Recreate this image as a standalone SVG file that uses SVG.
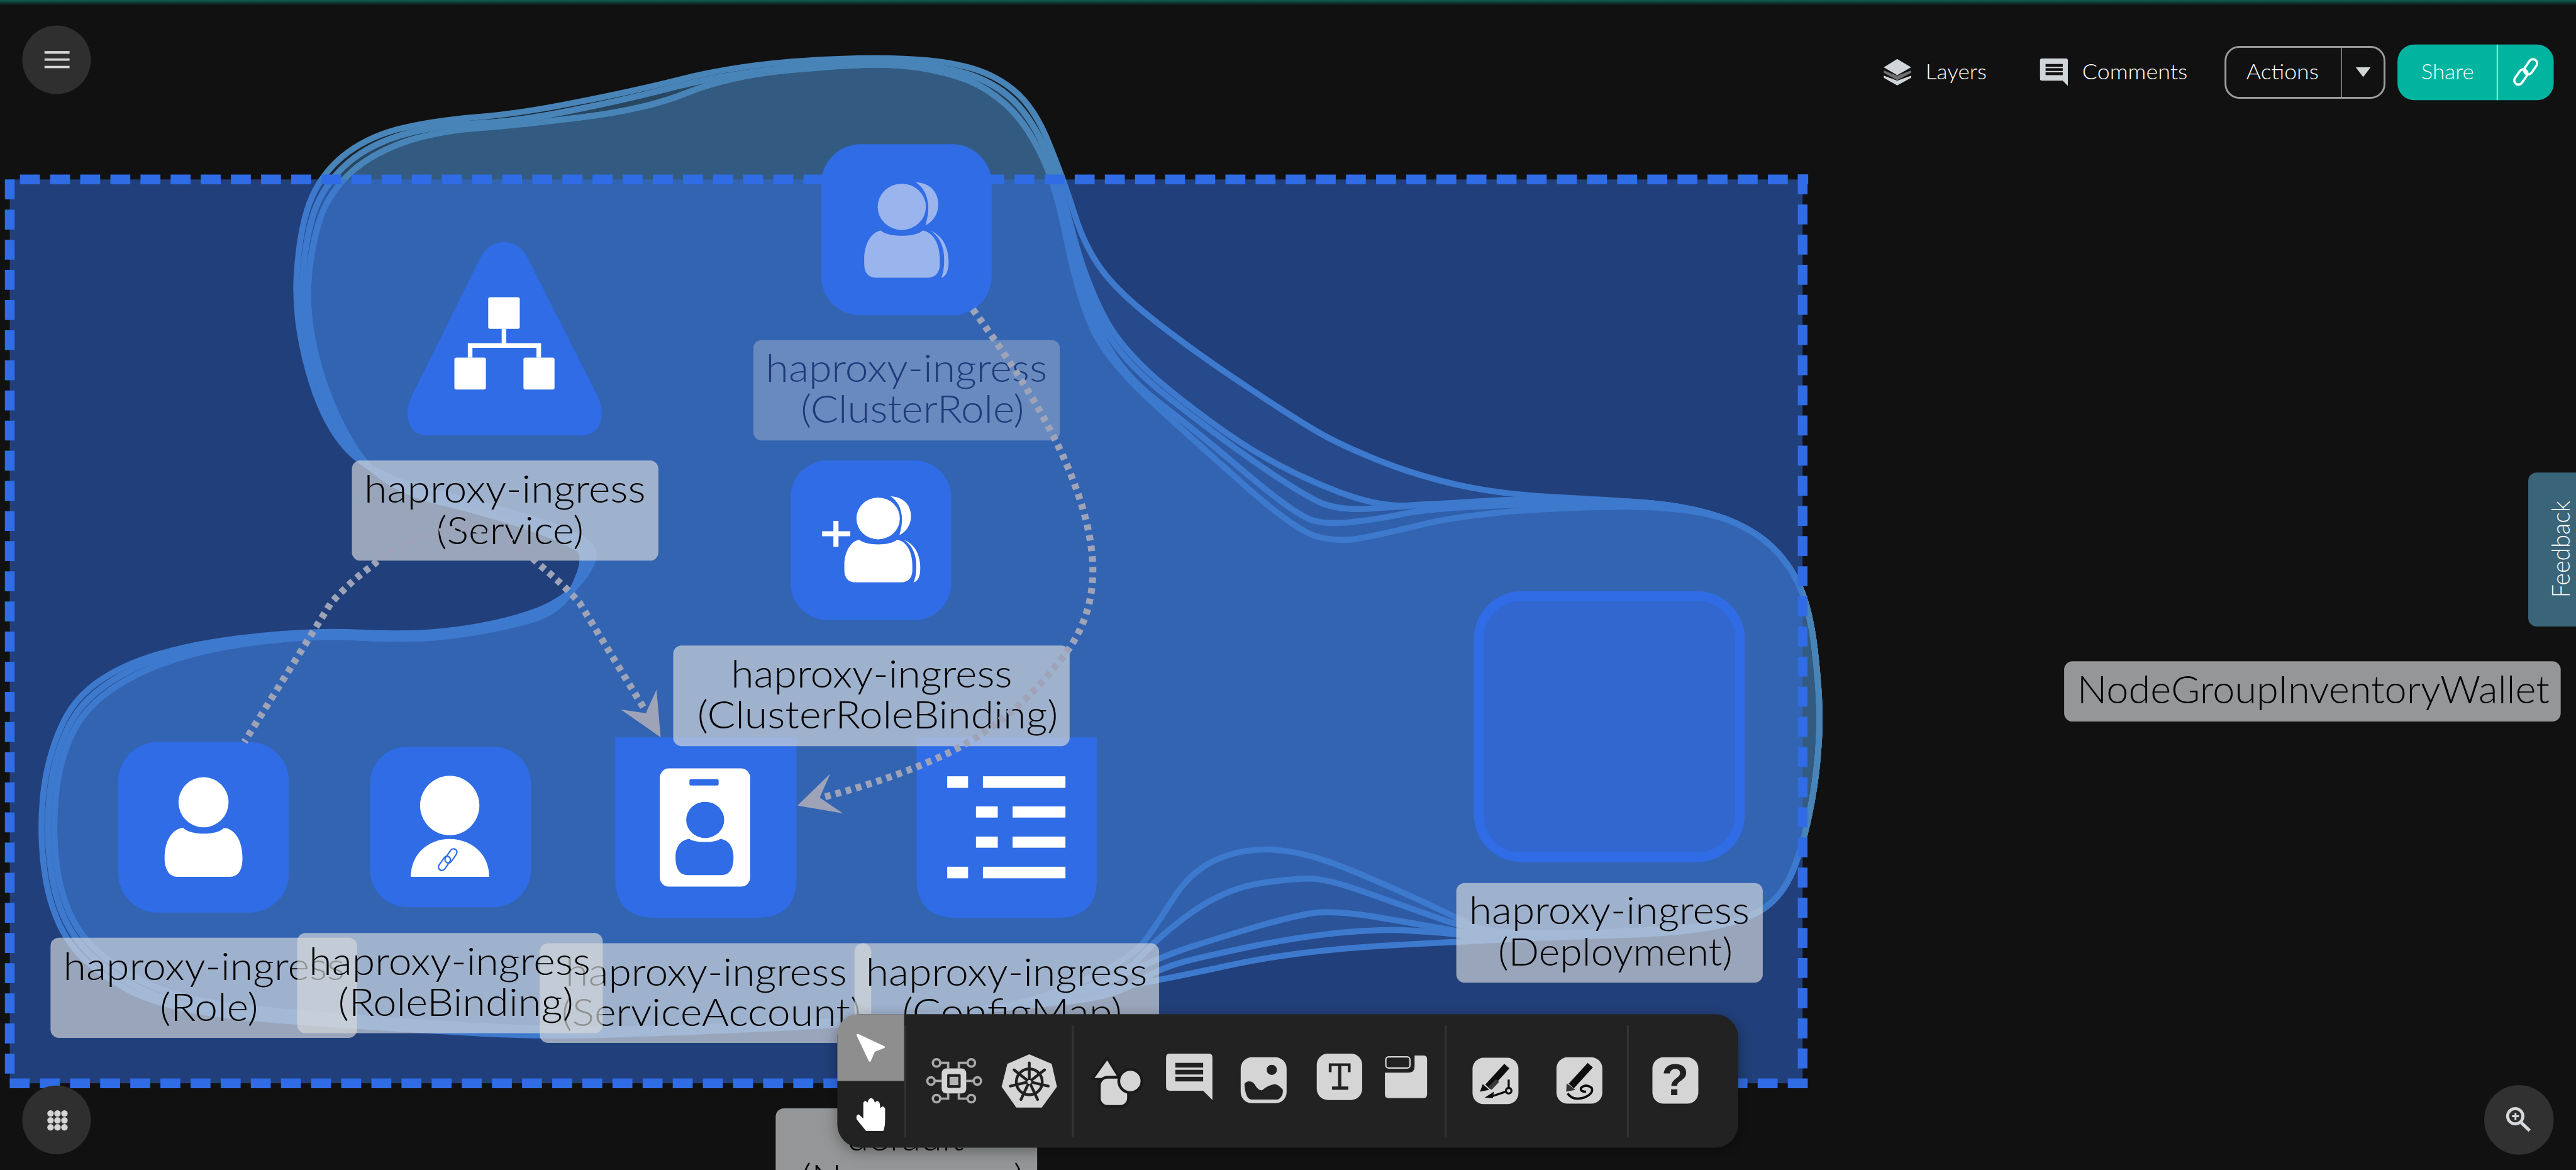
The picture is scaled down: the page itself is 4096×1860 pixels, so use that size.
<svg xmlns="http://www.w3.org/2000/svg" xmlns:xlink="http://www.w3.org/1999/xlink" width="4096" height="1860" viewBox="0 0 4096 1860">
<style>
text{font-family:"Lato","Liberation Sans",sans-serif}
.lbl{font-size:83px;font-weight:300;fill:#000;text-anchor:middle}
.box{fill:#d5d8d9;fill-opacity:.67}
.node{fill:#2f6ce5}
.hull{fill:#4884b7;fill-opacity:.2;stroke:#4884b7;stroke-width:13;stroke-linejoin:round}
.dash{fill:none;stroke:#2f6ce5;stroke-width:21;stroke-dasharray:43 22}
.conn{fill:none;stroke:#9ea3b8;stroke-width:15;stroke-dasharray:12 11}
.arrow{fill:#9ea3b8}
.ui{font-size:46px;font-weight:300;fill:#fff}
.tool{fill:#d5d5d5}
.dark{fill:#212121}
.sep{stroke:#343434;stroke-width:4}
</style>
<defs>
<linearGradient id="topline" x1="0" y1="0" x2="0" y2="1"><stop offset="0" stop-color="#0c6152"/><stop offset="1" stop-color="#111111"/></linearGradient>
<filter id="tbshadow" x="-5%" y="-20%" width="110%" height="140%"><feDropShadow dx="0" dy="8" stdDeviation="16" flood-color="#000" flood-opacity=".35"/></filter>
<g id="persons">
<ellipse cx="1945" cy="446" rx="52" ry="50"/>
<path d="M1975 393C2015 395 2027 425 2023 450C2020 465 2012 478 1996 486C2000 472 2003 458 2002 443C2000 420 1992 405 1975 393Z"/>
<path d="M1864 558C1864 525 1880 500 1900 497C1915 512 1975 512 1990 497C2012 500 2027 525 2027 558L2027 570C2027 590 2015 599 2000 599L1890 599C1875 599 1864 590 1864 570Z"/>
<path d="M2005 497C2030 505 2046 530 2046 565C2046 585 2040 597 2030 599C2036 585 2037 570 2036 550C2034 525 2022 505 2005 497Z"/>
</g>
</defs>
<g transform="scale(0.73722)">
<rect width="5556" height="2523" fill="#111111"/>
<rect width="5556" height="12" fill="url(#topline)"/>

<g id="hulls">
<path class="hull" d="M1286 2232Q1143 2236 955 2224Q768 2213 562 2197Q357 2181 268 2130Q179 2080 143 2021Q107 1963 95 1873Q84 1784 95 1698Q107 1612 143 1545Q179 1479 268 1438Q357 1397 509 1377Q661 1358 777 1364Q893 1370 982 1358Q1071 1347 1142 1323Q1214 1300 1254 1250Q1295 1200 1272 1176Q1250 1152 1160 1123Q1071 1094 937 1061Q804 1028 750 970Q696 912 665 800Q634 688 640 592Q646 497 667 439Q688 381 737 339Q786 298 857 279Q929 261 1022 253Q1116 246 1236 222Q1357 199 1464 172Q1571 145 1696 134Q1821 124 1919 126Q2018 128 2080 143Q2143 158 2187 195Q2232 232 2263 311Q2295 390 2317 460Q2339 531 2375 580Q2411 630 2491 692Q2571 755 2685 831Q2800 908 2852 937Q2905 966 2984 997Q3064 1028 3151 1047Q3239 1066 3353 1072Q3468 1078 3547 1084Q3626 1090 3692 1109Q3758 1128 3804 1164Q3850 1200 3877 1255Q3905 1310 3916 1418Q3928 1527 3923 1598Q3919 1670 3906 1737Q3894 1804 3873 1862Q3853 1920 3815 1951Q3778 1982 3703 1997Q3629 2012 3504 2016Q3380 2020 3297 2023Q3215 2027 3007 2038Q2800 2049 2650 2082Q2500 2115 2350 2140Q2200 2165 2037 2187Q1875 2209 1652 2218Q1429 2228 1286 2232Z"/>
<path class="hull" d="M1286 2226Q1143 2228 955 2216Q768 2205 569 2188Q370 2172 281 2121Q192 2070 156 2012Q120 1955 109 1869Q98 1784 109 1699Q120 1615 156 1552Q192 1490 281 1446Q370 1402 515 1383Q661 1364 777 1370Q893 1376 982 1364Q1071 1352 1142 1331Q1214 1310 1247 1255Q1280 1200 1260 1180Q1240 1160 1155 1131Q1071 1102 943 1071Q815 1040 761 972Q708 905 677 796Q646 688 653 594Q660 500 682 445Q705 390 752 350Q800 310 870 290Q940 270 1028 266Q1116 262 1233 238Q1350 215 1457 187Q1565 160 1693 147Q1821 135 1915 137Q2010 140 2070 155Q2130 170 2175 207Q2220 245 2252 317Q2285 390 2312 495Q2339 600 2380 680Q2420 760 2531 848Q2643 937 2721 982Q2800 1028 2888 1061Q2976 1094 3038 1090Q3100 1085 3284 1081Q3468 1078 3547 1084Q3626 1090 3692 1109Q3758 1128 3804 1164Q3850 1200 3877 1255Q3905 1310 3916 1418Q3928 1527 3923 1598Q3919 1670 3906 1737Q3894 1804 3873 1862Q3853 1920 3815 1951Q3778 1982 3703 1995Q3629 2009 3422 2016Q3215 2024 3152 2016Q3090 2009 3028 2006Q2966 2004 2883 2012Q2800 2021 2703 2040Q2607 2060 2553 2074Q2500 2088 2450 2119Q2400 2150 2300 2160Q2200 2170 2037 2187Q1875 2205 1652 2214Q1429 2224 1286 2226Z"/>
<path class="hull" d="M1286 2226Q1143 2228 955 2216Q768 2205 569 2188Q370 2172 281 2121Q192 2070 156 2012Q120 1955 109 1869Q98 1784 109 1699Q120 1615 156 1552Q192 1490 281 1446Q370 1402 515 1383Q661 1364 777 1370Q893 1376 982 1364Q1071 1352 1142 1331Q1214 1310 1247 1255Q1280 1200 1260 1180Q1240 1160 1155 1131Q1071 1102 943 1071Q815 1040 761 972Q708 905 677 796Q646 688 653 594Q660 500 682 445Q705 390 752 350Q800 310 870 290Q940 270 1028 266Q1116 262 1233 238Q1350 215 1457 187Q1565 160 1693 147Q1821 135 1915 137Q2010 140 2070 155Q2130 170 2175 207Q2220 245 2252 317Q2285 390 2310 500Q2335 610 2372 690Q2410 770 2517 855Q2625 940 2712 1000Q2800 1061 2844 1082Q2888 1103 2967 1096Q3046 1090 3173 1082Q3300 1075 3384 1076Q3468 1078 3547 1084Q3626 1090 3692 1109Q3758 1128 3804 1164Q3850 1200 3877 1255Q3905 1310 3916 1418Q3928 1527 3923 1598Q3919 1670 3906 1737Q3894 1804 3873 1862Q3853 1920 3815 1951Q3778 1982 3703 1995Q3629 2009 3422 2015Q3215 2022 3132 2006Q3049 1991 2966 1977Q2883 1964 2841 1968Q2800 1973 2721 1995Q2643 2018 2571 2041Q2500 2064 2425 2102Q2350 2140 2225 2162Q2100 2185 1987 2195Q1875 2205 1652 2214Q1429 2224 1286 2226Z"/>
<path class="hull" d="M1286 2220Q1143 2220 955 2208Q768 2197 576 2178Q385 2160 295 2110Q205 2060 168 2002Q132 1945 122 1864Q112 1784 122 1702Q132 1620 168 1560Q205 1500 295 1455Q385 1410 523 1389Q661 1368 777 1375Q893 1382 982 1370Q1071 1358 1142 1338Q1214 1318 1241 1259Q1268 1200 1248 1184Q1228 1168 1150 1140Q1071 1112 948 1082Q825 1052 772 976Q720 900 689 794Q658 688 666 596Q675 505 698 452Q722 400 768 362Q815 325 882 303Q950 282 1033 276Q1116 270 1254 253Q1393 236 1482 200Q1571 165 1685 153Q1800 142 1864 140Q1928 138 1984 146Q2040 155 2085 172Q2130 190 2170 226Q2210 262 2242 326Q2275 390 2302 505Q2330 620 2370 710Q2411 800 2500 868Q2589 937 2694 1026Q2800 1115 2835 1123Q2870 1132 2923 1125Q2976 1119 3037 1106Q3099 1094 3283 1088Q3468 1082 3547 1086Q3626 1090 3692 1109Q3758 1128 3804 1164Q3850 1200 3877 1255Q3905 1310 3916 1418Q3928 1527 3923 1598Q3919 1670 3906 1737Q3894 1804 3873 1862Q3853 1920 3815 1951Q3778 1982 3703 1995Q3629 2007 3422 2013Q3215 2020 3111 1983Q3007 1946 2936 1921Q2866 1897 2833 1895Q2800 1893 2721 1904Q2643 1916 2571 1967Q2500 2018 2460 2064Q2420 2110 2310 2140Q2200 2170 2037 2185Q1875 2200 1652 2210Q1429 2220 1286 2220Z"/>
<path class="hull" d="M1286 2220Q1143 2220 955 2208Q768 2197 576 2178Q385 2160 295 2110Q205 2060 168 2002Q132 1945 122 1864Q112 1784 122 1702Q132 1620 168 1560Q205 1500 295 1455Q385 1410 523 1389Q661 1368 777 1375Q893 1382 982 1370Q1071 1358 1142 1338Q1214 1318 1241 1259Q1268 1200 1248 1184Q1228 1168 1150 1140Q1071 1112 948 1082Q825 1052 772 976Q720 900 689 794Q658 688 666 596Q675 505 698 452Q722 400 768 362Q815 325 882 303Q950 282 1033 276Q1116 270 1254 253Q1393 236 1482 200Q1571 165 1685 153Q1800 142 1864 140Q1928 138 1984 146Q2040 155 2085 172Q2130 190 2170 226Q2210 262 2242 326Q2275 390 2300 515Q2325 640 2357 710Q2390 780 2489 871Q2589 962 2694 1055Q2800 1148 2844 1158Q2888 1169 2932 1161Q2976 1153 3063 1132Q3151 1111 3283 1101Q3415 1092 3520 1093Q3626 1095 3692 1111Q3758 1128 3804 1164Q3850 1200 3877 1255Q3905 1310 3916 1418Q3928 1527 3923 1598Q3919 1670 3906 1737Q3894 1804 3873 1862Q3853 1920 3815 1951Q3778 1982 3703 1993Q3629 2005 3422 2011Q3215 2018 3173 1995Q3132 1973 3028 1926Q2924 1879 2862 1857Q2800 1835 2739 1832Q2679 1830 2625 1853Q2571 1877 2535 1931Q2500 1986 2470 2028Q2440 2070 2320 2122Q2200 2175 2037 2187Q1875 2200 1652 2210Q1429 2220 1286 2220Z"/>
</g>

<g id="namespace-area">
<rect x="21" y="387" width="3867" height="1949" fill="#316de3" fill-opacity=".5"/>
<path class="dash" d="M21 387V2316"/>
<path class="dash" d="M43 387H3900"/>
<path class="dash" d="M3888 376V2306"/>
<path class="dash" d="M21 2336H3900"/>
</g>

<g id="service">
<path class="node" d="M1040 548Q1060 522 1087 522Q1115 522 1134 548L1292 860Q1298 878 1298 890Q1298 939 1250 939L925 939Q879 939 879 890Q879 878 885 860Z"/>
<g fill="#fff"><rect x="1053" y="641" width="68" height="68" rx="4"/><rect x="980" y="771" width="68" height="69" rx="4"/><rect x="1129" y="771" width="67" height="69" rx="4"/></g>
<path d="M1087 709V745M1014 771V745H1162V771" fill="none" stroke="#fff" stroke-width="10"/>
<rect class="box" x="759" y="993" width="661" height="216" rx="18"/>
<text class="lbl" x="1089" y="1084" textLength="607" lengthAdjust="spacingAndGlyphs">haproxy-ingress</text>
<text class="lbl" x="1100" y="1173" textLength="318" lengthAdjust="spacingAndGlyphs">(Service)</text>
</g>

<g id="cluster-role">
<rect class="node" x="1771" y="311" width="368" height="369" rx="85"/>
<use xlink:href="#persons" href="#persons" fill="#9ab4ee"/>
<rect x="1625" y="733" width="661" height="217" rx="18" fill="#d5d8d9" fill-opacity=".335"/>
<text class="lbl" x="1955" y="824" textLength="607" lengthAdjust="spacingAndGlyphs" style="fill:#1e3a7a">haproxy-ingress</text>
<text class="lbl" x="1968" y="912" textLength="482" lengthAdjust="spacingAndGlyphs" style="fill:#1e3a7a">(ClusterRole)</text>
</g>

<g id="role">
<rect class="node" x="255" y="1600" width="368" height="368" rx="85"/>
<g fill="#fff"><circle cx="439" cy="1730" r="54"/><path d="M355 1850C355 1812 372 1787 395 1785C410 1802 470 1802 483 1785C506 1787 523 1812 523 1850C523 1875 515 1891 495 1891L383 1891C365 1891 355 1875 355 1850Z"/></g>
</g>

<g id="service-account">
<path class="node" d="M1327 1590H1718V1894Q1718 1979 1633 1979H1412Q1327 1979 1327 1894Z"/>
<rect x="1423" y="1657" width="195" height="255" rx="20" fill="#fff"/>
<rect x="1487" y="1680" width="63" height="14" rx="4" fill="#2f6ce5"/>
<g fill="#2f6ce5"><ellipse cx="1521" cy="1768" rx="41" ry="39"/><path d="M1457 1848C1457 1825 1470 1810 1487 1809C1500 1818 1542 1818 1553 1809C1570 1810 1582 1825 1582 1848C1582 1872 1575 1887 1555 1887H1484C1465 1887 1457 1872 1457 1848Z"/></g>
<rect class="box" x="1164" y="2034" width="715" height="215" rx="18"/>
<text class="lbl" x="1523" y="2125" textLength="607" lengthAdjust="spacingAndGlyphs">haproxy-ingress</text>
<text class="lbl" x="1534" y="2213" textLength="646" lengthAdjust="spacingAndGlyphs">(ServiceAccount)</text>
</g>

<g id="role-binding">
<rect class="node" x="798" y="1610" width="347" height="346" rx="80"/>
<g fill="#fff"><circle cx="970" cy="1737" r="64"/><path d="M886 1891C886 1840 925 1809 970 1809C1015 1809 1055 1840 1055 1891Z"/></g>
<g fill="none" stroke="#2f6ce5" stroke-width="3"><rect x="965" y="1829" width="15" height="34" rx="7.500" transform="rotate(35 973 1846)"/><rect x="951" y="1845" width="15" height="34" rx="7.500" transform="rotate(35 959 1862)"/></g>
</g>

<g id="config-map">
<path class="node" d="M1977 1590H2366V1894Q2366 1979 2281 1979H2062Q1977 1979 1977 1894Z"/>
<g fill="#fff"><rect x="2043" y="1674" width="45" height="25"/><rect x="2120" y="1674" width="178" height="25"/><rect x="2105" y="1739" width="47" height="24"/><rect x="2184" y="1739" width="114" height="24"/><rect x="2105" y="1804" width="47" height="24"/><rect x="2184" y="1804" width="114" height="24"/><rect x="2043" y="1869" width="45" height="25"/><rect x="2120" y="1869" width="178" height="25"/></g>
</g>

<g id="cluster-role-binding">
<rect class="node" x="1705" y="993" width="347" height="344" rx="80"/>
<use xlink:href="#persons" href="#persons" fill="#fff" transform="translate(1894 1118) scale(.9) translate(-1945 -446)"/>
<path d="M1773 1151H1834M1803 1123V1179" stroke="#fff" stroke-width="11" fill="none"/>
<rect class="box" x="1452" y="1392" width="855" height="217" rx="18"/>
<text class="lbl" x="1880" y="1483" textLength="607" lengthAdjust="spacingAndGlyphs">haproxy-ingress</text>
<text class="lbl" x="1893" y="1571" textLength="778" lengthAdjust="spacingAndGlyphs">(ClusterRoleBinding)</text>
</g>

<g id="role-label">
<rect class="box" x="109" y="2022" width="661" height="216" rx="18"/>
<text class="lbl" x="440" y="2113" textLength="607" lengthAdjust="spacingAndGlyphs">haproxy-ingress</text>
<text class="lbl" x="451" y="2201" textLength="212" lengthAdjust="spacingAndGlyphs">(Role)</text>
</g>
<g id="role-binding-label">
<rect class="box" x="641" y="2012" width="659" height="216" rx="18"/>
<text class="lbl" x="970" y="2103" textLength="607" lengthAdjust="spacingAndGlyphs">haproxy-ingress</text>
<text class="lbl" x="983" y="2191" textLength="508" lengthAdjust="spacingAndGlyphs">(RoleBinding)</text>
</g>
<g id="config-map-label">
<rect class="box" x="1843" y="2034" width="657" height="215" rx="18"/>
<text class="lbl" x="2171" y="2125" textLength="607" lengthAdjust="spacingAndGlyphs">haproxy-ingress</text>
<text class="lbl" x="2183" y="2213" textLength="474" lengthAdjust="spacingAndGlyphs">(ConfigMap)</text>
</g>

<g id="deployment">
<rect x="3189.500" y="1285.500" width="563" height="563" rx="92" fill="#3167ce" stroke="#2f6ce5" stroke-width="21"/>
<rect class="box" x="3141" y="1904" width="661" height="215" rx="18"/>
<text class="lbl" x="3471" y="1993" textLength="605" lengthAdjust="spacingAndGlyphs">haproxy-ingress</text>
<text class="lbl" x="3484" y="2082" textLength="506" lengthAdjust="spacingAndGlyphs">(Deployment)</text>
</g>

<g id="node-group">
<rect class="box" x="4452" y="1426" width="1071" height="130" rx="18"/>
<text class="lbl" x="4989.500" y="1517" textLength="1019" lengthAdjust="spacingAndGlyphs">NodeGroupInventoryWallet</text>
</g>

<g id="default-namespace">
<rect class="box" x="1673" y="2390" width="564" height="200" rx="18"/>
<text class="lbl" x="1953" y="2481" textLength="252" lengthAdjust="spacingAndGlyphs">default</text>
<text class="lbl" x="1968" y="2571" textLength="482" lengthAdjust="spacingAndGlyphs">(Namespace)</text>
</g>

<g id="connectors">
<path class="conn" d="M2098 667Q2240 860 2300 1000Q2360 1140 2357 1240Q2354 1340 2290 1420Q2190 1550 2053 1620Q1930 1680 1768 1721"/>
<polygon class="arrow" points="1720,1737 1791,1668 1768,1720 1818,1754"/>
<path class="conn" d="M1005 1138Q1100 1150 1160 1215Q1215 1260 1250 1300L1393 1534"/>
<polygon class="arrow" points="1425,1590 1416,1487 1393,1538 1339,1530"/>
<path class="conn" d="M1005 1138Q880 1150 804 1219Q760 1250 714 1300L527 1600"/>
</g>

<g id="top-left-menu">
<circle cx="122" cy="129" r="74" fill="#2f2f2f"/>
<g fill="#d5d5d5"><rect x="96" y="110" width="54" height="6"/><rect x="96" y="126" width="54" height="5"/><rect x="96" y="142" width="54" height="5"/></g>
</g>
<g id="bottom-left-menu">
<circle cx="122" cy="2415" r="74" fill="#2f2f2f"/>
<g fill="#d5d5d5"><circle cx="109" cy="2401" r="7"/><circle cx="124" cy="2401" r="7"/><circle cx="139" cy="2401" r="7"/><circle cx="109" cy="2416" r="7"/><circle cx="124" cy="2416" r="7"/><circle cx="139" cy="2416" r="7"/><circle cx="109" cy="2431" r="7"/><circle cx="124" cy="2431" r="7"/><circle cx="139" cy="2431" r="7"/></g>
</g>
<g id="zoom-button">
<circle cx="5433" cy="2415" r="75" fill="#313131"/>
<circle cx="5425" cy="2407" r="16.500" fill="none" stroke="#d5dadc" stroke-width="6.500"/>
<path d="M5438 2421L5456 2438" stroke="#d5dadc" stroke-width="7" fill="none"/>
<path d="M5418 2407H5433M5425.500 2400V2415" stroke="#d5dadc" stroke-width="4" fill="none"/>
</g>

<g id="top-bar">
<polygon points="4063,163 4092,174 4122,163 4122,168 4092,184 4063,168" fill="#d0d5d7"/>
<polygon points="4063,152 4092,163 4122,152 4122,157 4092,173 4063,157" fill="#6d6f70"/>
<polygon points="4092,127 4122,145 4092,162 4063,145" fill="#d0d5d7"/>
<text class="ui" x="4153" y="171" textLength="132" lengthAdjust="spacingAndGlyphs">Layers</text>
<path d="M4404 126H4456Q4460 126 4460 130V185L4449 174H4404Q4400 174 4400 170V130Q4400 126 4404 126Z" fill="#d0d5d7"/>
<g fill="#111"><rect x="4412" y="138" width="37" height="6"/><rect x="4412" y="147" width="37" height="6"/><rect x="4412" y="156" width="37" height="6"/></g>
<text class="ui" x="4491" y="171" textLength="227" lengthAdjust="spacingAndGlyphs">Comments</text>
<rect x="4800" y="101" width="343" height="110" rx="30" fill="none" stroke="#9c9c9c" stroke-width="4"/>
<path d="M5050 101V211" stroke="#9c9c9c" stroke-width="2"/>
<text class="ui" x="4845" y="171" textLength="156" lengthAdjust="spacingAndGlyphs">Actions</text>
<polygon points="5081,145 5113,145 5097,166" fill="#d0d5d7"/>
<rect x="5171" y="96" width="337" height="120" rx="36" fill="#00b4a0"/>
<path d="M5386 96V216" stroke="#fff" stroke-width="2"/>
<text class="ui" x="5222" y="171" textLength="114" lengthAdjust="spacingAndGlyphs">Share</text>
<g fill="none" stroke="#fff" stroke-width="5"><rect x="5440" y="135" width="36" height="18" rx="9" transform="rotate(-55 5458 144)"/><rect x="5419" y="157" width="36" height="18" rx="9" transform="rotate(-55 5437 166)"/></g>
</g>

<g id="feedback">
<rect x="5453" y="1019" width="130" height="332" rx="18" fill="#3a6478"/>
<text x="5543" y="1289" transform="rotate(-90 5543 1289)" font-size="52" font-weight="300" fill="#fff" textLength="209" lengthAdjust="spacingAndGlyphs">Feedback</text>
</g>

<g id="toolbar">
<rect x="1806" y="2187" width="1943" height="288" rx="50" fill="#212121" filter="url(#tbshadow)"/>
<path d="M1950 2187V2331H1806V2237Q1806 2187 1856 2187Z" fill="#8e8e8e"/>
<path class="sep" d="M1952 2211V2451M2314 2211V2451M3118 2211V2451M3511 2211V2451"/>
<path d="M1850 2232L1906 2258L1885 2266L1876 2287Z" fill="#fff" stroke="#fff" stroke-width="5" stroke-linejoin="round"/>
<path d="M1862 2378Q1866 2370 1871 2378L1873 2372Q1879 2364 1885 2372L1887 2378Q1892 2370 1897 2378L1899 2390Q1904 2382 1909 2390L1909 2415Q1909 2430 1905 2439L1868 2439L1848 2414Q1845 2405 1852 2403L1862 2412Z" fill="#fff"/>
<g fill="none" stroke="#aaaaaa" stroke-width="5"><circle cx="2020" cy="2292" r="8"/><circle cx="2095" cy="2292" r="8"/><circle cx="2008" cy="2331" r="8"/><circle cx="2108" cy="2331" r="8"/><circle cx="2020" cy="2369" r="8"/><circle cx="2095" cy="2369" r="8"/><path d="M2028 2292H2045V2304M2087 2292H2068V2304M2016 2331H2031M2100 2331H2084M2028 2369H2045V2358M2087 2369H2068V2358"/></g>
<rect class="tool" x="2031" y="2304" width="53" height="54" rx="10"/>
<rect class="dark" x="2043" y="2316" width="29" height="30" rx="3"/>
<rect x="2048" y="2322" width="19" height="18" fill="#b4b4b4"/>
<polygon class="tool" points="2220,2275 2267,2295 2278,2343 2246,2387 2193,2387 2162,2343 2174,2295" stroke="#d5d5d5" stroke-width="3" stroke-linejoin="round"/>
<g fill="none" stroke="#212121" stroke-width="6" stroke-linecap="round"><circle cx="2220" cy="2333" r="28"/><path d="M2220 2292V2327M2253 2307L2225 2329M2261 2342L2226 2334M2238 2371L2223 2339M2202 2371L2217 2339M2179 2342L2214 2334M2187 2307L2215 2329"/></g>
<circle cx="2220" cy="2333" r="4" fill="#d5d5d5"/>
<polygon class="tool" points="2388,2282 2356,2327 2416,2327" stroke="#1a1a1a" stroke-width="5" stroke-linejoin="round"/>
<rect class="tool" x="2371" y="2323" width="63" height="63" rx="18" stroke="#1a1a1a" stroke-width="6"/>
<circle class="tool" cx="2438" cy="2331" r="25" stroke="#1a1a1a" stroke-width="6"/>
<path class="tool" d="M2523 2272H2607Q2615 2272 2615 2280V2372L2595 2352H2523Q2515 2352 2515 2344V2280Q2515 2272 2523 2272Z"/>
<g class="dark"><rect x="2535" y="2292" width="60" height="10"/><rect x="2535" y="2307" width="60" height="10"/><rect x="2535" y="2322" width="60" height="10"/></g>
<rect class="tool" x="2676" y="2280" width="99" height="99" rx="24"/>
<circle class="dark" cx="2743" cy="2307" r="11"/>
<path class="dark" d="M2684 2337Q2690 2331 2695 2332Q2703 2332 2707 2340Q2714 2352 2722 2351Q2735 2340 2749 2338Q2760 2340 2767 2350Q2768 2365 2756 2371H2699Q2686 2370 2684 2337Z"/>
<rect class="tool" x="2840" y="2272" width="98" height="100" rx="24"/>
<path class="dark" d="M2866 2293H2913V2312H2907V2299H2893V2343H2908V2350H2873V2343H2886V2299H2872V2312H2866Z"/>
<path class="tool" d="M2987 2276H3070Q3078 2276 3078 2284V2360Q3078 2368 3070 2368H2995Q2987 2368 2987 2360Z"/>
<path class="dark" d="M2985 2274H3051V2300Q3051 2313 3038 2313H2985Z"/>
<rect x="2989" y="2279" width="52" height="24" rx="6" fill="none" stroke="#d5d5d5" stroke-width="3"/>
<rect class="tool" x="3176" y="2281" width="99" height="100" rx="24"/>
<path d="M3250 2299L3209 2344" stroke="#0e0e0e" stroke-width="15" fill="none"/>
<path d="M3230 2330L3214 2347" stroke="#3a3a3a" stroke-width="9" fill="none"/>
<polygon points="3198,2338 3192,2354 3212,2350" fill="#0e0e0e"/>
<path d="M3254 2328V2345M3248 2354L3212 2366" stroke="#0e0e0e" stroke-width="4.500" fill="none"/>
<circle cx="3254" cy="2352" r="6" fill="none" stroke="#0e0e0e" stroke-width="4.500"/>
<polygon points="3202,2367 3222,2354 3220,2368" fill="#0e0e0e"/>
<rect class="tool" x="3357" y="2280" width="99" height="100" rx="24"/>
<path d="M3430 2297L3389 2342" stroke="#0e0e0e" stroke-width="15" fill="none"/>
<polygon points="3379,2336 3378,2354 3398,2350" fill="#333"/>
<path d="M3381 2358Q3392 2374 3416 2367Q3438 2358 3433 2346Q3420 2336 3410 2346Q3408 2355 3421 2354" fill="none" stroke="#0e0e0e" stroke-width="5"/>
<rect class="tool" x="3564" y="2280" width="99" height="100" rx="24"/>
<text x="3613" y="2362" text-anchor="middle" font-size="96" font-weight="700" fill="#212121" style="font-family:'Liberation Sans',sans-serif">?</text>
</g>
</g>
</svg>
